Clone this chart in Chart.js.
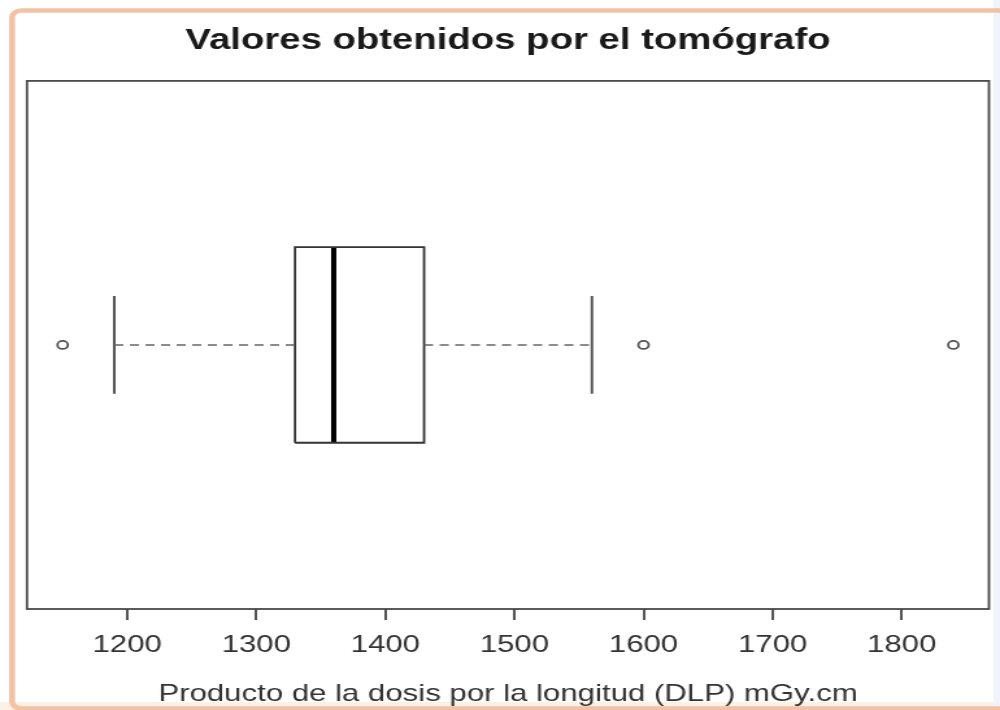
<!DOCTYPE html>
<html><head><meta charset="utf-8">
<script src="https://cdn.jsdelivr.net/npm/chart.js@4.4.0/dist/chart.umd.min.js"></script>
<style>
html,body{margin:0;padding:0;background:#fff;overflow:hidden;}
#wrap{width:770px;height:710px;transform:scaleX(1.2987);transform-origin:0 0;}
canvas{display:block;}
</style></head><body>
<div id="wrap"><canvas id="c" width="770" height="710"></canvas></div>
<script>
// ---- data ----
const categories = ['DLP'];
const q1Values = [1330];
const medianValues = [1360];
const q3Values = [1430];
const whiskerLow = [1190];
const whiskerHigh = [1560];
const outlierValues = [1150, 1600, 1840];
const tickValues = [1200, 1300, 1400, 1500, 1600, 1700, 1800];
const chartTitle = 'Valores obtenidos por el tomógrafo';
const axisTitle = 'Producto de la dosis por la longitud (DLP) mGy.cm';

// ---- layout constants ----
const yCenter = 1, boxHalf = 0.2, capHalf = 0.1;
const allVals = [whiskerLow[0], whiskerHigh[0], ...outlierValues];
const dMin = Math.min(...allVals), dMax = Math.max(...allVals);
const ext = (dMax - dMin) * 0.04;

const i = 0;
const boxPts = [
  {x: q1Values[i], y: yCenter - boxHalf}, {x: q3Values[i], y: yCenter - boxHalf},
  {x: q3Values[i], y: yCenter + boxHalf}, {x: q1Values[i], y: yCenter + boxHalf},
  {x: q1Values[i], y: yCenter - boxHalf}
];
const lineDs = (data, color, width, dash) => ({
  data, showLine: true, borderColor: color, borderWidth: width, borderDash: dash || [],
  pointRadius: 0, fill: false, tension: 0, borderCapStyle: 'butt', borderJoinStyle: 'miter'
});

const frame = {
  id: 'frame',
  beforeDraw(chart) {
    const c = chart.ctx, W = chart.width, H = chart.height;
    c.save();
    c.fillStyle = '#ffffff'; c.fillRect(0, 0, W, H);
    c.fillStyle = '#fdf1e6'; c.fillRect(0, H - 8, W, 8);
    c.fillStyle = '#eef4fa'; c.fillRect(W - 5, 0, 5, H);
    c.strokeStyle = '#f1c2a4'; c.lineWidth = 4.5;
    c.beginPath();
    c.roundRect(9.3, 10.5, W + 20, H - 12, 7);
    c.stroke();
    c.restore();
  },
  beforeDatasetsDraw(chart) {
    const a = chart.chartArea, c = chart.ctx;
    c.save();
    c.strokeStyle = '#4a4a4a'; c.lineWidth = 1.8;
    c.strokeRect(a.left, a.top, a.right - a.left, a.bottom - a.top);
    c.restore();
  }
};

new Chart(document.getElementById('c'), {
  type: 'scatter',
  data: {
    datasets: [
      lineDs([{x: whiskerLow[i], y: yCenter}, {x: q1Values[i], y: yCenter}], '#666', 1.6, [7, 5]),
      lineDs([{x: q3Values[i], y: yCenter}, {x: whiskerHigh[i], y: yCenter}], '#666', 1.6, [7, 5]),
      lineDs([{x: whiskerLow[i], y: yCenter - capHalf}, {x: whiskerLow[i], y: yCenter + capHalf}], '#555', 2),
      lineDs([{x: whiskerHigh[i], y: yCenter - capHalf}, {x: whiskerHigh[i], y: yCenter + capHalf}], '#555', 2),
      lineDs(boxPts, '#333', 1.8),
      lineDs([{x: medianValues[i], y: yCenter - boxHalf}, {x: medianValues[i], y: yCenter + boxHalf}], '#000', 4),
      {
        data: outlierValues.map(v => ({x: v, y: yCenter})),
        pointStyle: 'circle', pointRadius: 4, borderColor: '#555', borderWidth: 1.8,
        backgroundColor: '#fff', showLine: false
      }
    ]
  },
  options: {
    responsive: false, animation: false, devicePixelRatio: 1,
    layout: {padding: {left: 20.8, right: 8.5, top: 0, bottom: 1.1}},
    plugins: {
      legend: {display: false}, tooltip: {enabled: false},
      title: {
        display: true, text: chartTitle, fullSize: false, color: '#1a1a1a',
        font: {family: "'Liberation Sans', Arial, sans-serif", size: 29.5, weight: 'bold'},
        padding: {top: 23, bottom: 22.5}
      }
    },
    scales: {
      x: {
        type: 'linear', min: dMin - ext, max: dMax + ext,
        afterBuildTicks: s => { s.ticks = tickValues.map(v => ({value: v})); },
        grid: {drawOnChartArea: false, drawTicks: true, tickLength: 11, color: '#555', lineWidth: 2},
        border: {display: false},
        ticks: {
          padding: 11, color: '#333', maxRotation: 0, autoSkip: false,
          font: {family: "'Liberation Sans', Arial, sans-serif", size: 24},
          callback: v => String(v)
        },
        title: {
          display: true, text: axisTitle, color: '#333',
          font: {family: "'Liberation Sans', Arial, sans-serif", size: 24},
          padding: {top: 9.3, bottom: 0}
        }
      },
      y: {type: 'linear', min: 0.46, max: 1.54, display: false}
    }
  },
  plugins: [frame]
});
</script>
</body></html>
